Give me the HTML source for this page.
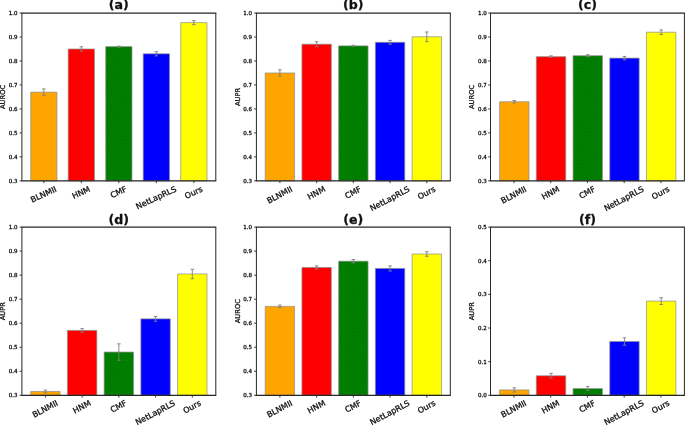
<!DOCTYPE html>
<html lang="en"><head><meta charset="utf-8"><title>Figure</title>
<style>html,body{margin:0;padding:0;background:#fff}body{width:685px;height:426px;overflow:hidden}svg{display:block}</style>
</head><body>
<svg width="685" height="426" viewBox="0 0 685 426" font-family='"DejaVu Sans","Liberation Sans",sans-serif' fill="#111" stroke="#111" stroke-width="0.3" stroke-linejoin="round">
<rect width="685" height="426" fill="#fff" stroke="none"/>
<defs><pattern id="gd" width="5" height="4.4" patternUnits="userSpaceOnUse" patternTransform="rotate(-35)"><rect width="5" height="4.4" fill="#008000" stroke="none"/><rect x="0.6" y="0.5" width="1.1" height="1.1" fill="#004f00" fill-opacity=".5" stroke="none"/><rect x="3.1" y="2.6" width="1.1" height="1.1" fill="#004f00" fill-opacity=".42" stroke="none"/><rect x="2.9" y="0.3" width="1" height="1" fill="#005a00" fill-opacity=".3" stroke="none"/></pattern></defs>
<g>
<rect x="30.71" y="92.16" width="26.25" height="88.69" fill="#ffa500" stroke="#8c8c8c" stroke-width="0.7"/>
<rect x="68.22" y="49.01" width="26.25" height="131.84" fill="#ff0000" stroke="#8c8c8c" stroke-width="0.7"/>
<rect x="105.72" y="46.61" width="26.25" height="134.24" fill="url(#gd)" stroke="#8c8c8c" stroke-width="0.7"/>
<rect x="143.23" y="53.80" width="26.25" height="127.05" fill="#0000ff" stroke="#8c8c8c" stroke-width="0.7"/>
<rect x="180.73" y="22.64" width="26.25" height="158.21" fill="#ffff00" stroke="#8c8c8c" stroke-width="0.7"/>
<path d="M43.84 88.96V95.36M42.04 88.96h3.6M42.04 95.36h3.6" stroke="#808080" stroke-width="0.9" fill="none"/>
<path d="M81.35 46.71V51.31M79.55 46.71h3.6M79.55 51.31h3.6" stroke="#808080" stroke-width="0.9" fill="none"/>
<path d="M118.85 46.11V47.11M117.05 46.11h3.6M117.05 47.11h3.6" stroke="#808080" stroke-width="0.9" fill="none"/>
<path d="M156.35 51.70V55.90M154.55 51.70h3.6M154.55 55.90h3.6" stroke="#808080" stroke-width="0.9" fill="none"/>
<path d="M193.86 20.64V24.64M192.06 20.64h3.6M192.06 24.64h3.6" stroke="#808080" stroke-width="0.9" fill="none"/>
<path d="M21.40 13.05H216.30M21.40 180.85H216.30" fill="none" stroke="#262626" stroke-width="1.15"/>
<path d="M21.90 13.05V180.85M215.80 13.05V180.85" fill="none" stroke="#262626" stroke-width="1"/>
<path d="M21.90 180.85h-2.3" stroke="#262626" stroke-width="0.9"/>
<text x="17.60" y="182.85" font-size="5.5" text-anchor="end">0.3</text>
<path d="M21.90 156.88h-2.3" stroke="#262626" stroke-width="0.9"/>
<text x="17.60" y="158.88" font-size="5.5" text-anchor="end">0.4</text>
<path d="M21.90 132.91h-2.3" stroke="#262626" stroke-width="0.9"/>
<text x="17.60" y="134.91" font-size="5.5" text-anchor="end">0.5</text>
<path d="M21.90 108.94h-2.3" stroke="#262626" stroke-width="0.9"/>
<text x="17.60" y="110.94" font-size="5.5" text-anchor="end">0.6</text>
<path d="M21.90 84.96h-2.3" stroke="#262626" stroke-width="0.9"/>
<text x="17.60" y="86.96" font-size="5.5" text-anchor="end">0.7</text>
<path d="M21.90 60.99h-2.3" stroke="#262626" stroke-width="0.9"/>
<text x="17.60" y="62.99" font-size="5.5" text-anchor="end">0.8</text>
<path d="M21.90 37.02h-2.3" stroke="#262626" stroke-width="0.9"/>
<text x="17.60" y="39.02" font-size="5.5" text-anchor="end">0.9</text>
<path d="M21.90 13.05h-2.3" stroke="#262626" stroke-width="0.9"/>
<text x="17.60" y="15.05" font-size="5.5" text-anchor="end">1.0</text>
<path d="M43.84 180.85v2.3" stroke="#262626" stroke-width="0.9"/>
<text transform="translate(43.84,194.90) rotate(-25)" y="2.11" font-size="8.0" text-anchor="middle">BLNMII</text>
<path d="M81.35 180.85v2.3" stroke="#262626" stroke-width="0.9"/>
<text transform="translate(81.35,193.07) rotate(-25)" y="2.11" font-size="8.0" text-anchor="middle">HNM</text>
<path d="M118.85 180.85v2.3" stroke="#262626" stroke-width="0.9"/>
<text transform="translate(118.85,192.69) rotate(-25)" y="2.11" font-size="8.0" text-anchor="middle">CMF</text>
<path d="M156.35 180.85v2.3" stroke="#262626" stroke-width="0.9"/>
<text transform="translate(156.35,198.28) rotate(-25)" y="2.11" font-size="8.0" text-anchor="middle">NetLapRLS</text>
<path d="M193.86 180.85v2.3" stroke="#262626" stroke-width="0.9"/>
<text transform="translate(193.86,193.05) rotate(-25)" y="2.11" font-size="8.0" text-anchor="middle">Ours</text>
<text transform="translate(5.30,96.95) rotate(-90)" font-size="6.7" text-anchor="middle">AUROC</text>
<text x="118.85" y="9.05" font-size="12.6" font-weight="bold" text-anchor="middle">(a)</text>
</g>
<g>
<rect x="265.21" y="72.98" width="29.38" height="107.87" fill="#ffa500" stroke="#8c8c8c" stroke-width="0.7"/>
<rect x="301.94" y="44.21" width="29.38" height="136.64" fill="#ff0000" stroke="#8c8c8c" stroke-width="0.7"/>
<rect x="338.66" y="45.89" width="29.38" height="134.96" fill="url(#gd)" stroke="#8c8c8c" stroke-width="0.7"/>
<rect x="375.38" y="42.30" width="29.38" height="138.55" fill="#0000ff" stroke="#8c8c8c" stroke-width="0.7"/>
<rect x="412.11" y="36.78" width="29.38" height="144.07" fill="#ffff00" stroke="#8c8c8c" stroke-width="0.7"/>
<path d="M279.90 69.78V76.18M278.10 69.78h3.6M278.10 76.18h3.6" stroke="#808080" stroke-width="0.9" fill="none"/>
<path d="M316.63 41.71V46.71M314.83 41.71h3.6M314.83 46.71h3.6" stroke="#808080" stroke-width="0.9" fill="none"/>
<path d="M353.35 45.39V46.39M351.55 45.39h3.6M351.55 46.39h3.6" stroke="#808080" stroke-width="0.9" fill="none"/>
<path d="M390.07 40.40V44.20M388.27 40.40h3.6M388.27 44.20h3.6" stroke="#808080" stroke-width="0.9" fill="none"/>
<path d="M426.80 31.98V41.58M425.00 31.98h3.6M425.00 41.58h3.6" stroke="#808080" stroke-width="0.9" fill="none"/>
<path d="M255.90 13.05H450.80M255.90 180.85H450.80" fill="none" stroke="#262626" stroke-width="1.15"/>
<path d="M256.40 13.05V180.85M450.30 13.05V180.85" fill="none" stroke="#262626" stroke-width="1"/>
<path d="M256.40 180.85h-2.3" stroke="#262626" stroke-width="0.9"/>
<text x="252.10" y="182.85" font-size="5.5" text-anchor="end">0.3</text>
<path d="M256.40 156.88h-2.3" stroke="#262626" stroke-width="0.9"/>
<text x="252.10" y="158.88" font-size="5.5" text-anchor="end">0.4</text>
<path d="M256.40 132.91h-2.3" stroke="#262626" stroke-width="0.9"/>
<text x="252.10" y="134.91" font-size="5.5" text-anchor="end">0.5</text>
<path d="M256.40 108.94h-2.3" stroke="#262626" stroke-width="0.9"/>
<text x="252.10" y="110.94" font-size="5.5" text-anchor="end">0.6</text>
<path d="M256.40 84.96h-2.3" stroke="#262626" stroke-width="0.9"/>
<text x="252.10" y="86.96" font-size="5.5" text-anchor="end">0.7</text>
<path d="M256.40 60.99h-2.3" stroke="#262626" stroke-width="0.9"/>
<text x="252.10" y="62.99" font-size="5.5" text-anchor="end">0.8</text>
<path d="M256.40 37.02h-2.3" stroke="#262626" stroke-width="0.9"/>
<text x="252.10" y="39.02" font-size="5.5" text-anchor="end">0.9</text>
<path d="M256.40 13.05h-2.3" stroke="#262626" stroke-width="0.9"/>
<text x="252.10" y="15.05" font-size="5.5" text-anchor="end">1.0</text>
<path d="M279.90 180.85v2.3" stroke="#262626" stroke-width="0.9"/>
<text transform="translate(279.90,195.45) rotate(-28)" y="2.11" font-size="8.0" text-anchor="middle">BLNMII</text>
<path d="M316.63 180.85v2.3" stroke="#262626" stroke-width="0.9"/>
<text transform="translate(316.63,193.42) rotate(-28)" y="2.11" font-size="8.0" text-anchor="middle">HNM</text>
<path d="M353.35 180.85v2.3" stroke="#262626" stroke-width="0.9"/>
<text transform="translate(353.35,192.99) rotate(-28)" y="2.11" font-size="8.0" text-anchor="middle">CMF</text>
<path d="M390.07 180.85v2.3" stroke="#262626" stroke-width="0.9"/>
<text transform="translate(390.07,199.21) rotate(-28)" y="2.11" font-size="8.0" text-anchor="middle">NetLapRLS</text>
<path d="M426.80 180.85v2.3" stroke="#262626" stroke-width="0.9"/>
<text transform="translate(426.80,193.40) rotate(-28)" y="2.11" font-size="8.0" text-anchor="middle">Ours</text>
<text transform="translate(239.50,96.95) rotate(-90)" font-size="6.7" text-anchor="middle">AUPR</text>
<text x="353.35" y="9.05" font-size="12.6" font-weight="bold" text-anchor="middle">(b)</text>
</g>
<g>
<rect x="499.61" y="101.74" width="29.38" height="79.11" fill="#ffa500" stroke="#8c8c8c" stroke-width="0.7"/>
<rect x="536.34" y="56.68" width="29.38" height="124.17" fill="#ff0000" stroke="#8c8c8c" stroke-width="0.7"/>
<rect x="573.06" y="55.72" width="29.38" height="125.13" fill="url(#gd)" stroke="#8c8c8c" stroke-width="0.7"/>
<rect x="609.78" y="58.12" width="29.38" height="122.73" fill="#0000ff" stroke="#8c8c8c" stroke-width="0.7"/>
<rect x="646.51" y="32.23" width="29.38" height="148.62" fill="#ffff00" stroke="#8c8c8c" stroke-width="0.7"/>
<path d="M514.30 100.54V102.94M512.50 100.54h3.6M512.50 102.94h3.6" stroke="#808080" stroke-width="0.9" fill="none"/>
<path d="M551.03 55.88V57.48M549.23 55.88h3.6M549.23 57.48h3.6" stroke="#808080" stroke-width="0.9" fill="none"/>
<path d="M587.75 54.72V56.72M585.95 54.72h3.6M585.95 56.72h3.6" stroke="#808080" stroke-width="0.9" fill="none"/>
<path d="M624.47 56.42V59.82M622.67 56.42h3.6M622.67 59.82h3.6" stroke="#808080" stroke-width="0.9" fill="none"/>
<path d="M661.20 29.93V34.53M659.40 29.93h3.6M659.40 34.53h3.6" stroke="#808080" stroke-width="0.9" fill="none"/>
<path d="M490.00 13.05H684.90M490.00 180.85H684.90" fill="none" stroke="#262626" stroke-width="1.15"/>
<path d="M490.50 13.05V180.85M684.40 13.05V180.85" fill="none" stroke="#262626" stroke-width="1"/>
<path d="M490.50 180.85h-2.3" stroke="#262626" stroke-width="0.9"/>
<text x="486.80" y="182.85" font-size="5.5" text-anchor="end">0.3</text>
<path d="M490.50 156.88h-2.3" stroke="#262626" stroke-width="0.9"/>
<text x="486.80" y="158.88" font-size="5.5" text-anchor="end">0.4</text>
<path d="M490.50 132.91h-2.3" stroke="#262626" stroke-width="0.9"/>
<text x="486.80" y="134.91" font-size="5.5" text-anchor="end">0.5</text>
<path d="M490.50 108.94h-2.3" stroke="#262626" stroke-width="0.9"/>
<text x="486.80" y="110.94" font-size="5.5" text-anchor="end">0.6</text>
<path d="M490.50 84.96h-2.3" stroke="#262626" stroke-width="0.9"/>
<text x="486.80" y="86.96" font-size="5.5" text-anchor="end">0.7</text>
<path d="M490.50 60.99h-2.3" stroke="#262626" stroke-width="0.9"/>
<text x="486.80" y="62.99" font-size="5.5" text-anchor="end">0.8</text>
<path d="M490.50 37.02h-2.3" stroke="#262626" stroke-width="0.9"/>
<text x="486.80" y="39.02" font-size="5.5" text-anchor="end">0.9</text>
<path d="M490.50 13.05h-2.3" stroke="#262626" stroke-width="0.9"/>
<text x="486.80" y="15.05" font-size="5.5" text-anchor="end">1.0</text>
<path d="M514.00 180.85v2.3" stroke="#262626" stroke-width="0.9"/>
<text transform="translate(514.00,195.45) rotate(-28)" y="2.11" font-size="8.0" text-anchor="middle">BLNMII</text>
<path d="M550.73 180.85v2.3" stroke="#262626" stroke-width="0.9"/>
<text transform="translate(550.73,193.42) rotate(-28)" y="2.11" font-size="8.0" text-anchor="middle">HNM</text>
<path d="M587.45 180.85v2.3" stroke="#262626" stroke-width="0.9"/>
<text transform="translate(587.45,192.99) rotate(-28)" y="2.11" font-size="8.0" text-anchor="middle">CMF</text>
<path d="M624.17 180.85v2.3" stroke="#262626" stroke-width="0.9"/>
<text transform="translate(624.17,199.21) rotate(-28)" y="2.11" font-size="8.0" text-anchor="middle">NetLapRLS</text>
<path d="M660.90 180.85v2.3" stroke="#262626" stroke-width="0.9"/>
<text transform="translate(660.90,193.40) rotate(-28)" y="2.11" font-size="8.0" text-anchor="middle">Ours</text>
<text transform="translate(473.60,96.95) rotate(-90)" font-size="6.7" text-anchor="middle">AUROC</text>
<text x="587.45" y="9.05" font-size="12.6" font-weight="bold" text-anchor="middle">(c)</text>
</g>
<g>
<rect x="30.71" y="391.46" width="29.38" height="3.84" fill="#ffa500" stroke="#8c8c8c" stroke-width="0.7"/>
<rect x="67.44" y="330.42" width="29.38" height="64.88" fill="#ff0000" stroke="#8c8c8c" stroke-width="0.7"/>
<rect x="104.16" y="352.05" width="29.38" height="43.25" fill="url(#gd)" stroke="#8c8c8c" stroke-width="0.7"/>
<rect x="140.88" y="318.89" width="29.38" height="76.41" fill="#0000ff" stroke="#8c8c8c" stroke-width="0.7"/>
<rect x="177.61" y="273.96" width="29.38" height="121.34" fill="#ffff00" stroke="#8c8c8c" stroke-width="0.7"/>
<path d="M45.40 390.06V392.86M43.60 390.06h3.6M43.60 392.86h3.6" stroke="#808080" stroke-width="0.9" fill="none"/>
<path d="M82.13 328.62V332.22M80.33 328.62h3.6M80.33 332.22h3.6" stroke="#808080" stroke-width="0.9" fill="none"/>
<path d="M118.85 343.85V360.25M117.05 343.85h3.6M117.05 360.25h3.6" stroke="#808080" stroke-width="0.9" fill="none"/>
<path d="M155.57 316.49V321.29M153.77 316.49h3.6M153.77 321.29h3.6" stroke="#808080" stroke-width="0.9" fill="none"/>
<path d="M192.30 269.26V278.66M190.50 269.26h3.6M190.50 278.66h3.6" stroke="#808080" stroke-width="0.9" fill="none"/>
<path d="M21.40 227.10H216.30M21.40 395.30H216.30" fill="none" stroke="#262626" stroke-width="1.15"/>
<path d="M21.90 227.10V395.30M215.80 227.10V395.30" fill="none" stroke="#262626" stroke-width="1"/>
<path d="M21.90 395.30h-2.3" stroke="#262626" stroke-width="0.9"/>
<text x="17.60" y="397.30" font-size="5.5" text-anchor="end">0.3</text>
<path d="M21.90 371.27h-2.3" stroke="#262626" stroke-width="0.9"/>
<text x="17.60" y="373.27" font-size="5.5" text-anchor="end">0.4</text>
<path d="M21.90 347.24h-2.3" stroke="#262626" stroke-width="0.9"/>
<text x="17.60" y="349.24" font-size="5.5" text-anchor="end">0.5</text>
<path d="M21.90 323.21h-2.3" stroke="#262626" stroke-width="0.9"/>
<text x="17.60" y="325.21" font-size="5.5" text-anchor="end">0.6</text>
<path d="M21.90 299.19h-2.3" stroke="#262626" stroke-width="0.9"/>
<text x="17.60" y="301.19" font-size="5.5" text-anchor="end">0.7</text>
<path d="M21.90 275.16h-2.3" stroke="#262626" stroke-width="0.9"/>
<text x="17.60" y="277.16" font-size="5.5" text-anchor="end">0.8</text>
<path d="M21.90 251.13h-2.3" stroke="#262626" stroke-width="0.9"/>
<text x="17.60" y="253.13" font-size="5.5" text-anchor="end">0.9</text>
<path d="M21.90 227.10h-2.3" stroke="#262626" stroke-width="0.9"/>
<text x="17.60" y="229.10" font-size="5.5" text-anchor="end">1.0</text>
<path d="M45.40 395.30v2.3" stroke="#262626" stroke-width="0.9"/>
<text transform="translate(45.40,409.40) rotate(-28)" y="2.11" font-size="8.0" text-anchor="middle">BLNMII</text>
<path d="M82.13 395.30v2.3" stroke="#262626" stroke-width="0.9"/>
<text transform="translate(82.13,407.37) rotate(-28)" y="2.11" font-size="8.0" text-anchor="middle">HNM</text>
<path d="M118.85 395.30v2.3" stroke="#262626" stroke-width="0.9"/>
<text transform="translate(118.85,406.94) rotate(-28)" y="2.11" font-size="8.0" text-anchor="middle">CMF</text>
<path d="M155.57 395.30v2.3" stroke="#262626" stroke-width="0.9"/>
<text transform="translate(155.57,413.16) rotate(-28)" y="2.11" font-size="8.0" text-anchor="middle">NetLapRLS</text>
<path d="M192.30 395.30v2.3" stroke="#262626" stroke-width="0.9"/>
<text transform="translate(192.30,407.35) rotate(-28)" y="2.11" font-size="8.0" text-anchor="middle">Ours</text>
<text transform="translate(5.30,311.20) rotate(-90)" font-size="6.7" text-anchor="middle">AUPR</text>
<text x="118.85" y="223.90" font-size="12.6" font-weight="bold" text-anchor="middle">(d)</text>
</g>
<g>
<rect x="265.21" y="306.39" width="29.38" height="88.91" fill="#ffa500" stroke="#8c8c8c" stroke-width="0.7"/>
<rect x="301.94" y="267.47" width="29.38" height="127.83" fill="#ff0000" stroke="#8c8c8c" stroke-width="0.7"/>
<rect x="338.66" y="261.22" width="29.38" height="134.08" fill="url(#gd)" stroke="#8c8c8c" stroke-width="0.7"/>
<rect x="375.38" y="268.43" width="29.38" height="126.87" fill="#0000ff" stroke="#8c8c8c" stroke-width="0.7"/>
<rect x="412.11" y="254.01" width="29.38" height="141.29" fill="#ffff00" stroke="#8c8c8c" stroke-width="0.7"/>
<path d="M279.90 305.09V307.69M278.10 305.09h3.6M278.10 307.69h3.6" stroke="#808080" stroke-width="0.9" fill="none"/>
<path d="M316.63 265.87V269.07M314.83 265.87h3.6M314.83 269.07h3.6" stroke="#808080" stroke-width="0.9" fill="none"/>
<path d="M353.35 259.52V262.92M351.55 259.52h3.6M351.55 262.92h3.6" stroke="#808080" stroke-width="0.9" fill="none"/>
<path d="M390.07 265.83V271.03M388.27 265.83h3.6M388.27 271.03h3.6" stroke="#808080" stroke-width="0.9" fill="none"/>
<path d="M426.80 251.71V256.31M425.00 251.71h3.6M425.00 256.31h3.6" stroke="#808080" stroke-width="0.9" fill="none"/>
<path d="M255.90 227.10H450.80M255.90 395.30H450.80" fill="none" stroke="#262626" stroke-width="1.15"/>
<path d="M256.40 227.10V395.30M450.30 227.10V395.30" fill="none" stroke="#262626" stroke-width="1"/>
<path d="M256.40 395.30h-2.3" stroke="#262626" stroke-width="0.9"/>
<text x="252.10" y="397.30" font-size="5.5" text-anchor="end">0.3</text>
<path d="M256.40 371.27h-2.3" stroke="#262626" stroke-width="0.9"/>
<text x="252.10" y="373.27" font-size="5.5" text-anchor="end">0.4</text>
<path d="M256.40 347.24h-2.3" stroke="#262626" stroke-width="0.9"/>
<text x="252.10" y="349.24" font-size="5.5" text-anchor="end">0.5</text>
<path d="M256.40 323.21h-2.3" stroke="#262626" stroke-width="0.9"/>
<text x="252.10" y="325.21" font-size="5.5" text-anchor="end">0.6</text>
<path d="M256.40 299.19h-2.3" stroke="#262626" stroke-width="0.9"/>
<text x="252.10" y="301.19" font-size="5.5" text-anchor="end">0.7</text>
<path d="M256.40 275.16h-2.3" stroke="#262626" stroke-width="0.9"/>
<text x="252.10" y="277.16" font-size="5.5" text-anchor="end">0.8</text>
<path d="M256.40 251.13h-2.3" stroke="#262626" stroke-width="0.9"/>
<text x="252.10" y="253.13" font-size="5.5" text-anchor="end">0.9</text>
<path d="M256.40 227.10h-2.3" stroke="#262626" stroke-width="0.9"/>
<text x="252.10" y="229.10" font-size="5.5" text-anchor="end">1.0</text>
<path d="M279.90 395.30v2.3" stroke="#262626" stroke-width="0.9"/>
<text transform="translate(279.90,409.40) rotate(-28)" y="2.11" font-size="8.0" text-anchor="middle">BLNMII</text>
<path d="M316.63 395.30v2.3" stroke="#262626" stroke-width="0.9"/>
<text transform="translate(316.63,407.37) rotate(-28)" y="2.11" font-size="8.0" text-anchor="middle">HNM</text>
<path d="M353.35 395.30v2.3" stroke="#262626" stroke-width="0.9"/>
<text transform="translate(353.35,406.94) rotate(-28)" y="2.11" font-size="8.0" text-anchor="middle">CMF</text>
<path d="M390.07 395.30v2.3" stroke="#262626" stroke-width="0.9"/>
<text transform="translate(390.07,413.16) rotate(-28)" y="2.11" font-size="8.0" text-anchor="middle">NetLapRLS</text>
<path d="M426.80 395.30v2.3" stroke="#262626" stroke-width="0.9"/>
<text transform="translate(426.80,407.35) rotate(-28)" y="2.11" font-size="8.0" text-anchor="middle">Ours</text>
<text transform="translate(239.50,311.20) rotate(-90)" font-size="6.7" text-anchor="middle">AUROC</text>
<text x="353.35" y="223.90" font-size="12.6" font-weight="bold" text-anchor="middle">(e)</text>
</g>
<g>
<rect x="499.61" y="389.92" width="29.38" height="5.38" fill="#ffa500" stroke="#8c8c8c" stroke-width="0.7"/>
<rect x="536.34" y="375.79" width="29.38" height="19.51" fill="#ff0000" stroke="#8c8c8c" stroke-width="0.7"/>
<rect x="573.06" y="388.57" width="29.38" height="6.73" fill="url(#gd)" stroke="#8c8c8c" stroke-width="0.7"/>
<rect x="609.78" y="341.48" width="29.38" height="53.82" fill="#0000ff" stroke="#8c8c8c" stroke-width="0.7"/>
<rect x="646.51" y="301.11" width="29.38" height="94.19" fill="#ffff00" stroke="#8c8c8c" stroke-width="0.7"/>
<path d="M514.30 387.82V392.02M512.50 387.82h3.6M512.50 392.02h3.6" stroke="#808080" stroke-width="0.9" fill="none"/>
<path d="M551.03 373.34V378.24M549.23 373.34h3.6M549.23 378.24h3.6" stroke="#808080" stroke-width="0.9" fill="none"/>
<path d="M587.75 386.47V390.67M585.95 386.47h3.6M585.95 390.67h3.6" stroke="#808080" stroke-width="0.9" fill="none"/>
<path d="M624.47 337.78V345.18M622.67 337.78h3.6M622.67 345.18h3.6" stroke="#808080" stroke-width="0.9" fill="none"/>
<path d="M661.20 297.71V304.51M659.40 297.71h3.6M659.40 304.51h3.6" stroke="#808080" stroke-width="0.9" fill="none"/>
<path d="M490.00 227.10H684.90M490.00 395.30H684.90" fill="none" stroke="#262626" stroke-width="1.15"/>
<path d="M490.50 227.10V395.30M684.40 227.10V395.30" fill="none" stroke="#262626" stroke-width="1"/>
<path d="M490.50 395.30h-2.3" stroke="#262626" stroke-width="0.9"/>
<text x="486.80" y="397.30" font-size="5.5" text-anchor="end">0.0</text>
<path d="M490.50 361.66h-2.3" stroke="#262626" stroke-width="0.9"/>
<text x="486.80" y="363.66" font-size="5.5" text-anchor="end">0.1</text>
<path d="M490.50 328.02h-2.3" stroke="#262626" stroke-width="0.9"/>
<text x="486.80" y="330.02" font-size="5.5" text-anchor="end">0.2</text>
<path d="M490.50 294.38h-2.3" stroke="#262626" stroke-width="0.9"/>
<text x="486.80" y="296.38" font-size="5.5" text-anchor="end">0.3</text>
<path d="M490.50 260.74h-2.3" stroke="#262626" stroke-width="0.9"/>
<text x="486.80" y="262.74" font-size="5.5" text-anchor="end">0.4</text>
<path d="M490.50 227.10h-2.3" stroke="#262626" stroke-width="0.9"/>
<text x="486.80" y="229.10" font-size="5.5" text-anchor="end">0.5</text>
<path d="M514.00 395.30v2.3" stroke="#262626" stroke-width="0.9"/>
<text transform="translate(514.00,409.40) rotate(-28)" y="2.11" font-size="8.0" text-anchor="middle">BLNMII</text>
<path d="M550.73 395.30v2.3" stroke="#262626" stroke-width="0.9"/>
<text transform="translate(550.73,407.37) rotate(-28)" y="2.11" font-size="8.0" text-anchor="middle">HNM</text>
<path d="M587.45 395.30v2.3" stroke="#262626" stroke-width="0.9"/>
<text transform="translate(587.45,406.94) rotate(-28)" y="2.11" font-size="8.0" text-anchor="middle">CMF</text>
<path d="M624.17 395.30v2.3" stroke="#262626" stroke-width="0.9"/>
<text transform="translate(624.17,413.16) rotate(-28)" y="2.11" font-size="8.0" text-anchor="middle">NetLapRLS</text>
<path d="M660.90 395.30v2.3" stroke="#262626" stroke-width="0.9"/>
<text transform="translate(660.90,407.35) rotate(-28)" y="2.11" font-size="8.0" text-anchor="middle">Ours</text>
<text transform="translate(473.60,311.20) rotate(-90)" font-size="6.7" text-anchor="middle">AUPR</text>
<text x="587.45" y="223.90" font-size="12.6" font-weight="bold" text-anchor="middle">(f)</text>
</g>
</svg>
</body></html>
